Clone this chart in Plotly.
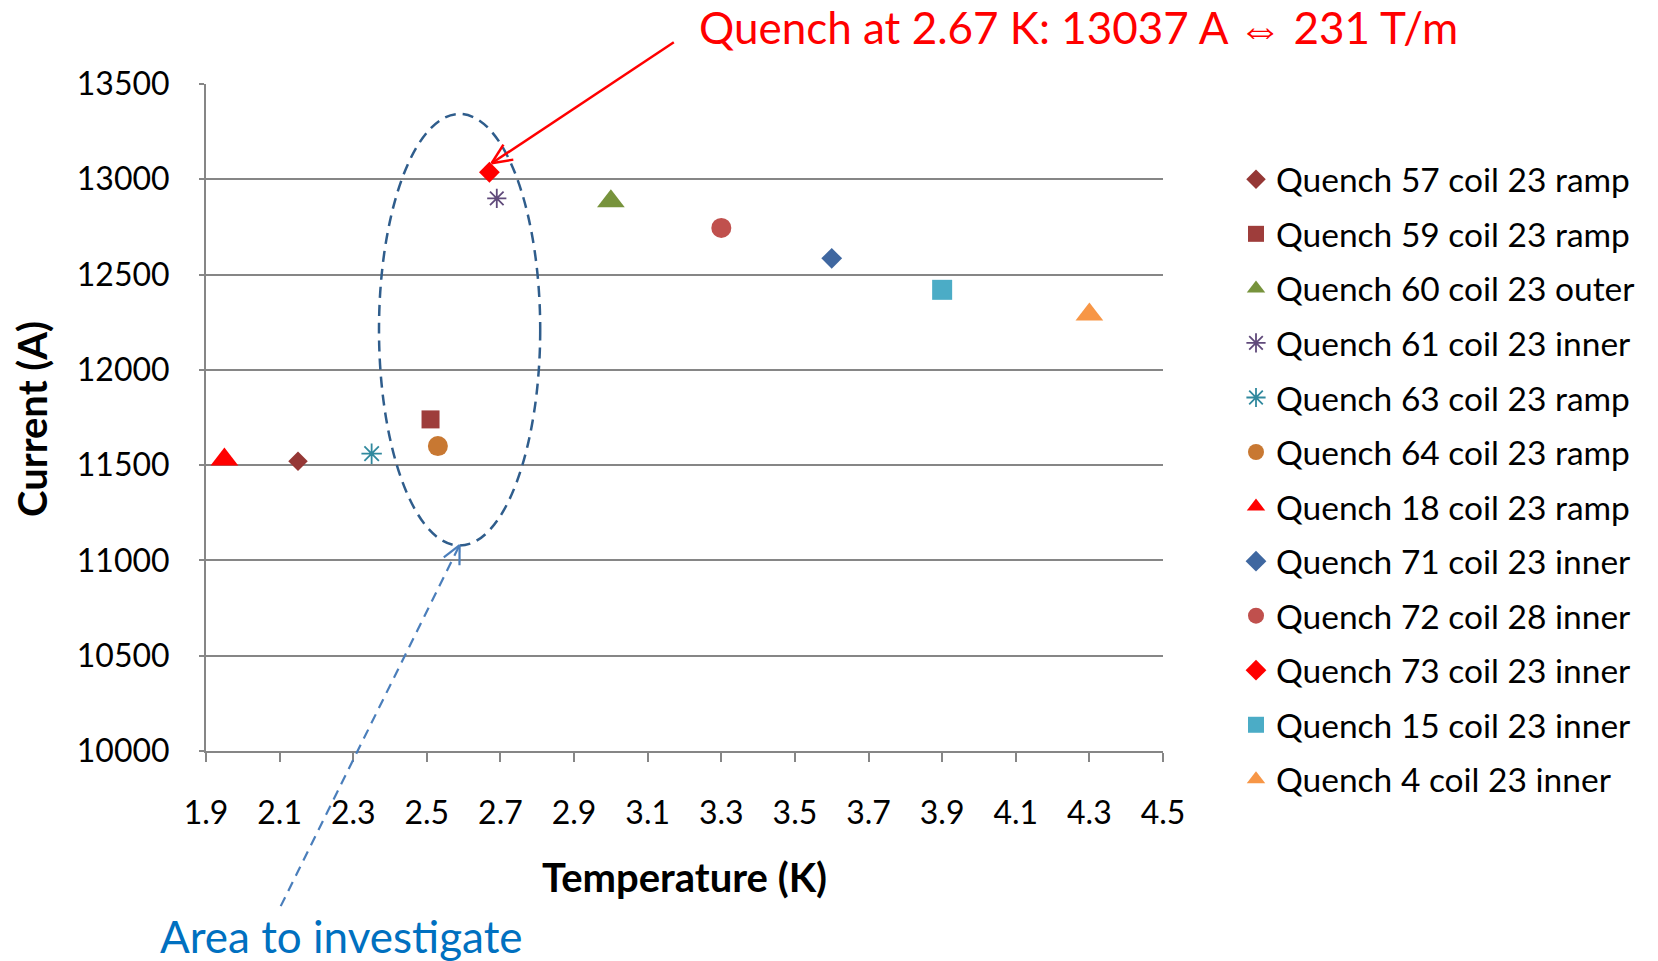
import math
import plotly.graph_objects as go

# ---------------- data ----------------
names = [
    "Quench 57 coil 23 ramp", "Quench 59 coil 23 ramp", "Quench 60 coil 23 outer",
    "Quench 61 coil 23 inner", "Quench 63 coil 23 ramp", "Quench 64 coil 23 ramp",
    "Quench 18 coil 23 ramp", "Quench 71 coil 23 inner", "Quench 72 coil 28 inner",
    "Quench 73 coil 23 inner", "Quench 15 coil 23 inner", "Quench 4 coil 23 inner",
]
temperature_k = [2.15, 2.51, 3.00, 2.69, 2.35, 2.53, 1.95, 3.60, 3.30, 2.67, 3.90, 4.30]
current_a = [11520, 11740, 12885, 12900, 11560, 11600, 11530, 12585, 12745, 13037, 12420, 12290]

symbols = ["diamond", "square", "triangle-up", "asterisk-open", "asterisk-open", "circle",
           "triangle-up", "diamond", "circle", "diamond", "square", "triangle-up"]
sizes = [15, 18, 24, 16, 17, 20, 24, 16, 20, 16, 20, 24]
colors = ["#953735", "#9E3D3B", "#77933C", "#604A7B", "#31899E", "#C87832",
          "#FF0000", "#3F67A0", "#C0504D", "#FF0000", "#4BACC6", "#F79646"]

x_ticks = [1.9, 2.1, 2.3, 2.5, 2.7, 2.9, 3.1, 3.3, 3.5, 3.7, 3.9, 4.1, 4.3, 4.5]
y_ticks = [10000, 10500, 11000, 11500, 12000, 12500, 13000, 13500]
x_range = [1.9, 4.5]
y_range = [10000, 13500]

# highlighted area (ellipse) and arrows, in data units
ellipse_x = [2.37, 2.808]
ellipse_y = [11078, 13343]
red_arrow_from = (3.171, 13719)
red_arrow_to = (2.676, 13084)
blue_arrow_from = (2.103, 9186)
blue_arrow_to = (2.589, 11080)

# ---------------- layout geometry ----------------
FIG_W, FIG_H = 1658, 961
M_L, M_R, M_T, M_B = 206, 495, 84, 210
PW = FIG_W - M_L - M_R
PH = FIG_H - M_T - M_B

FONT = "Lato, 'Open Sans', sans-serif"
GRID = "#868686"


def to_px(x, y):
    px = M_L + (x - x_range[0]) / (x_range[1] - x_range[0]) * PW
    py = M_T + (y_range[1] - y) / (y_range[1] - y_range[0]) * PH
    return px, py


def px_to_paper(px, py):
    return (px - M_L) / PW, (M_T + PH - py) / PH


fig = go.Figure()
for i, name in enumerate(names):
    open_sym = symbols[i].endswith("open")
    fig.add_trace(go.Scatter(
        x=[temperature_k[i]], y=[current_a[i]], name=name, mode="markers",
        legendgroup=name,
        marker=dict(symbol=symbols[i], size=sizes[i], color=colors[i],
                    line=dict(width=1.8 if open_sym else 0, color=colors[i])),
        cliponaxis=False,
    ))

shapes = []
# ellipse
shapes.append(dict(type="circle", xref="x", yref="y",
                   x0=ellipse_x[0], x1=ellipse_x[1], y0=ellipse_y[0], y1=ellipse_y[1],
                   line=dict(color="#2F5D8C", width=2.5, dash="11px,7px")))


def arrow(frm, to, color, width, dash, head_len=22, head_ang=24):
    x0, y0 = to_px(*frm)
    x1, y1 = to_px(*to)
    a0 = px_to_paper(x0, y0)
    a1 = px_to_paper(x1, y1)
    out = [dict(type="line", xref="paper", yref="paper", x0=a0[0], y0=a0[1], x1=a1[0], y1=a1[1],
                line=dict(color=color, width=width, dash=dash))]
    ang = math.atan2(y0 - y1, x0 - x1)
    for s in (-1, 1):
        a = ang + s * math.radians(head_ang)
        hx, hy = x1 + head_len * math.cos(a), y1 + head_len * math.sin(a)
        h = px_to_paper(hx, hy)
        out.append(dict(type="line", xref="paper", yref="paper", x0=a1[0], y0=a1[1], x1=h[0], y1=h[1],
                        line=dict(color=color, width=width)))
    return out


shapes += arrow(red_arrow_from, red_arrow_to, "#FF0000", 2.5, "solid")
shapes += arrow(blue_arrow_from, blue_arrow_to, "#4A7EBB", 2.2, "10px,7px", head_len=20, head_ang=26)

annotations = [
    dict(text="Quench at 2.67 K: 13037 A \u21d4 231 T/m",
         xref="paper", yref="paper",
         x=px_to_paper(1078, 0)[0], y=px_to_paper(0, 27)[1], xanchor="center", yanchor="middle",
         showarrow=False, font=dict(family=FONT, size=44, color="#FF0000")),
    dict(text="Area to investigate", xref="paper", yref="paper",
         x=px_to_paper(341, 0)[0], y=px_to_paper(0, 936)[1], xanchor="center", yanchor="middle",
         showarrow=False, font=dict(family=FONT, size=44, color="#0070C0")),
    dict(text="<b>Temperature (K)</b>", xref="paper", yref="paper",
         x=px_to_paper(684, 0)[0], y=px_to_paper(0, 877)[1], xanchor="center", yanchor="middle",
         showarrow=False, font=dict(family=FONT, size=40, color="#000000")),
    dict(text="<b>Current (A)</b>", xref="paper", yref="paper", textangle=-90,
         x=px_to_paper(32, 0)[0], y=px_to_paper(0, 419)[1], xanchor="center", yanchor="middle",
         showarrow=False, font=dict(family=FONT, size=40, color="#000000")),
]

fig.update_layout(
    width=FIG_W, height=FIG_H, autosize=False,
    margin=dict(l=M_L, r=M_R, t=M_T, b=M_B, pad=0),
    paper_bgcolor="white", plot_bgcolor="white",
    font=dict(family=FONT, size=32, color="black"),
    showlegend=True,
    legend=dict(x=px_to_paper(1236, 0)[0], y=px_to_paper(0, 151)[1], xanchor="left", yanchor="top",
                font=dict(family=FONT, size=33.5, color="black"), tracegroupgap=8,
                bgcolor="rgba(0,0,0,0)", borderwidth=0, itemsizing="trace"),
    xaxis=dict(range=x_range, tickmode="array", tickvals=x_ticks,
               ticktext=[f"{v:.1f}" for v in x_ticks],
               showgrid=False, zeroline=False, showline=True, linecolor=GRID, linewidth=2,
               ticks="outside", ticklen=9, tickwidth=2, tickcolor=GRID,
               tickfont=dict(family=FONT, size=32, color="black"), ticklabelstandoff=24),
    yaxis=dict(range=y_range, tickmode="array", tickvals=y_ticks,
               ticktext=[str(v) for v in y_ticks],
               showgrid=True, gridcolor=GRID, gridwidth=2, zeroline=False,
               showline=True, linecolor=GRID, linewidth=2,
               ticks="outside", ticklen=5, tickwidth=2, tickcolor=GRID,
               tickfont=dict(family=FONT, size=32, color="black"), ticklabelstandoff=23),
    shapes=shapes,
    annotations=annotations,
)

fig.write_html("out.html")
